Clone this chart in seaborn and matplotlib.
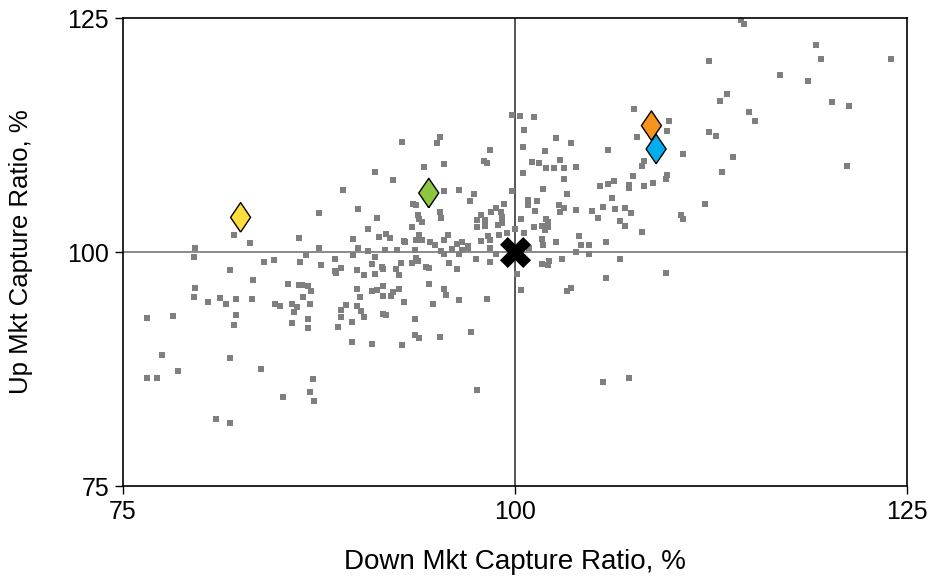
import matplotlib
matplotlib.use("Agg")
import matplotlib.pyplot as plt
import seaborn as sns
import pandas as pd

# Peer universe: downside / upside market capture ratios (%)
down_capture = [
    76.5, 76.5, 77.2, 77.5, 78.2, 78.5, 79.6, 79.5, 79.6, 79.5, 80.4, 81.2, 81.6, 82.2, 82.2,
    82.1, 82.1, 83.1, 81.8, 83.3, 83.2, 84.0, 84.6, 86.2, 86.3, 86.7, 87.5, 87.5, 87.6, 85.5,
    86.2, 86.4, 86.8, 87.0, 86.5, 84.7, 85.0, 85.8, 86.1, 86.9, 85.9, 86.8, 85.8, 86.8, 81.8,
    83.8, 87.1, 86.9, 87.2, 85.2, 80.9, 81.8,
    99.8, 95.2, 95.0, 92.8, 98.4, 98.0, 98.2, 95.5, 94.2, 91.1, 92.2, 89.0, 95.5, 96.4, 97.4,
    97.1, 99.3, 99.8, 93.5, 93.7, 98.8, 90.0,
    91.2, 90.6, 95.2, 95.3, 93.8, 93.9, 94.1, 93.4, 98.5, 99.1, 97.8, 98.1, 97.6, 99.2, 99.2,
    98.9, 98.1, 97.6, 89.7, 91.3, 91.8, 92.0, 92.9, 93.0, 93.9, 93.7, 94.1, 94.6, 94.9, 95.5,
    95.7, 96.3, 96.6, 97.0, 97.0, 97.8, 98.3, 98.4, 98.4, 99.0, 99.5, 90.0, 90.6, 91.7, 92.5,
    93.6, 95.3, 95.5, 96.0, 96.4, 96.6, 89.7, 88.5, 91.1, 90.9, 92.7, 93.4, 93.7, 93.8, 95.8,
    97.5, 98.4, 98.8, 88.9, 88.5, 88.6, 89.9, 90.4, 91.1, 91.5, 91.6, 92.4, 92.6, 94.3, 94.5,
    96.3, 94.5, 89.9, 90.9, 91.2, 91.6, 92.6, 92.2, 92.1, 91.6, 90.1, 95.5, 95.6, 96.4, 98.2,
    92.9, 94.8, 89.9, 89.2, 88.9, 90.2, 91.6, 91.8, 90.4, 88.9, 93.6,
    89.6, 88.7, 93.6, 93.9, 95.2, 97.2, 89.6, 90.9, 92.8, 97.6,
    100.3, 101.2, 100.6, 102.6, 103.6, 100.5, 101.9, 105.9, 107.6, 109.8, 109.7, 107.8, 112.4,
    110.7, 101.1, 101.5, 102.9, 102.0, 102.5, 103.1, 103.9, 100.5, 103.1, 108.2, 108.1, 107.5,
    109.7, 109.6, 106.3, 105.9, 105.4, 107.3, 107.3, 108.2, 108.8, 101.8, 103.3, 106.2, 100.8,
    101.4, 100.8, 102.8, 112.1,
    101.3, 103.1, 102.9, 103.9, 104.9, 105.6, 106.4, 107.0, 107.4, 110.6, 110.7, 100.4, 102.0,
    102.1, 105.3, 106.7, 107.0, 101.2, 101.7, 101.9, 102.1, 100.0, 100.6, 108.1, 104.1, 101.7,
    102.6, 105.8, 101.8, 104.2, 104.7, 100.9, 103.9, 104.7, 103.0, 106.7, 101.7, 102.1, 102.2,
    100.1, 109.6, 105.8, 100.4, 103.6, 103.3, 105.6, 107.3,
    114.4, 114.6, 119.2, 119.5, 124.0, 112.4, 116.9, 118.7, 113.5, 113.1, 120.2, 121.3, 114.9,
    115.3, 112.8, 113.9, 113.2, 121.2,
]
up_capture = [
    93.0, 86.5, 86.5, 89.0, 93.2, 87.3, 100.4, 99.5, 96.2, 95.2, 94.7, 95.1, 94.4, 95.0, 93.3,
    92.2, 101.8, 101.0, 98.1, 97.0, 95.0, 98.9, 99.1, 101.5, 98.9, 99.7, 104.2, 100.4, 98.6, 96.6,
    96.5, 96.5, 96.4, 95.8, 95.2, 94.4, 94.2, 94.4, 94.1, 94.4, 93.6, 92.8, 92.4, 91.9, 88.7,
    87.5, 86.4, 85.0, 84.1, 84.5, 82.2, 81.7,
    114.6, 112.3, 111.6, 111.8, 110.9, 109.7, 109.5, 109.4, 109.1, 108.6, 107.7, 106.6, 106.5,
    106.6, 106.2, 105.4, 105.1, 106.5, 105.1, 105.0, 104.7, 104.6,
    103.6, 102.5, 104.3, 103.6, 104.0, 103.5, 103.2, 102.7, 104.3, 104.3, 104.0, 103.4, 103.4,
    103.7, 103.1, 102.9, 102.8, 102.7, 101.4, 101.6, 101.9, 101.5, 101.2, 101.1, 101.8, 101.3,
    101.3, 101.1, 100.8, 101.3, 101.8, 100.9, 101.1, 100.6, 100.4, 101.2, 101.7, 101.3, 100.4,
    101.8, 102.0, 100.4, 100.1, 100.2, 100.2, 100.2, 100.1, 99.8, 100.3, 99.8, 100.2, 99.7,
    99.3, 99.5, 98.7, 98.8, 98.8, 99.4, 99.0, 98.8, 99.3, 98.9, 99.8, 98.3, 98.0, 97.8, 98.1,
    97.5, 97.6, 98.4, 98.2, 98.2, 97.5, 98.4, 98.3, 98.2, 96.6, 96.0, 95.8, 95.9, 96.4, 96.0,
    95.7, 95.3, 95.3, 95.2, 96.0, 95.4, 94.9, 95.0, 94.7, 94.4, 94.2, 94.3, 93.8, 93.7, 93.4,
    93.3, 93.1, 93.1, 92.8,
    92.5, 92.0, 91.1, 90.8, 90.9, 91.4, 90.4, 90.2, 90.1, 85.3,
    114.5, 114.4, 113.0, 112.2, 111.6, 111.2, 110.8, 110.9, 115.3, 114.0, 112.9, 112.3, 112.8,
    110.5, 109.6, 109.5, 109.8, 109.0, 109.0, 109.0, 109.1, 108.4, 107.8, 109.7, 109.2, 108.1,
    108.2, 107.8, 107.6, 107.3, 107.0, 107.2, 106.8, 107.1, 107.4, 106.7, 106.2, 105.8, 105.6,
    105.5, 105.0, 105.0, 105.1,
    104.4, 104.7, 104.3, 104.5, 104.4, 104.8, 104.6, 104.7, 104.2, 103.9, 103.5, 103.5, 103.5,
    103.2, 103.6, 103.3, 102.8, 102.7, 102.8, 102.4, 102.7, 102.5, 102.0, 102.1, 101.7, 101.4,
    101.1, 101.1, 100.7, 100.7, 100.7, 100.4, 100.0, 99.8, 99.3, 99.2, 98.7, 98.6, 99.0,
    97.6, 97.8, 97.2, 95.9, 96.2, 95.8, 86.1, 86.5,
    124.8, 124.4, 122.1, 120.6, 120.6, 120.4, 118.9, 118.3, 116.9, 116.1, 116.0, 115.6, 115.0,
    114.0, 112.4, 110.1, 108.5, 109.2,
]

# Highlighted funds
fund_names = ["Fund A", "Fund B", "Fund C", "Fund D"]
fund_down = [82.5, 94.5, 108.7, 109.0]
fund_up = [103.7, 106.3, 113.5, 111.0]
fund_colors = ["#FFDD3C", "#8DC63F", "#F7941D", "#00AEEF"]

# Benchmark
bench_down = [100.0]
bench_up = [100.0]

tick_values = [75, 100, 125]

sns.set_style("white")
plt.rcParams["font.family"] = ["Liberation Sans", "DejaVu Sans"]

fig = plt.figure(figsize=(9.51, 5.84), dpi=100)
ax = fig.add_axes([123 / 951, 1 - 486 / 584, 784 / 951, 468 / 584])

# Crosshair at the benchmark level
ax.axhline(100, color="#8a8a8a", lw=1.4, zorder=1)
ax.axvline(100, color="#555555", lw=1.4, zorder=1)

peers = pd.DataFrame({"down": down_capture, "up": up_capture})
sns.scatterplot(data=peers, x="down", y="up", ax=ax, marker="s", s=16,
                color="#7f7f7f", linewidth=0, zorder=2)

funds = pd.DataFrame({"name": fund_names, "down": fund_down, "up": fund_up})
diamond = [(0, -1), (0.68, 0), (0, 1), (-0.68, 0), (0, -1)]
sns.scatterplot(data=funds, x="down", y="up", hue="name", palette=fund_colors,
                marker=diamond, s=450, edgecolor="black", linewidth=1.0,
                legend=False, ax=ax, zorder=4)

sns.scatterplot(x=bench_down, y=bench_up, marker="X", s=500, color="black",
                linewidth=0, ax=ax, zorder=5)

ax.set_xlim(75, 125)
ax.set_ylim(75, 125)
ax.set_xticks(tick_values)
ax.set_yticks(tick_values)
ax.set_xticklabels([str(v) for v in tick_values])
ax.set_yticklabels([str(v) for v in tick_values])
ax.tick_params(axis="both", which="major", direction="out", length=6, width=1,
               color="black", labelsize=18, labelcolor="black", pad=4,
               bottom=True, left=True)

for side in ["left", "right", "top", "bottom"]:
    ax.spines[side].set_visible(True)
    ax.spines[side].set_color("black")
    ax.spines[side].set_linewidth(1.2)

ax.set_xlabel("Down Mkt Capture Ratio, %", fontsize=20, color="black")
ax.set_ylabel("Up Mkt Capture Ratio, %", fontsize=18.5, color="black")
ax.xaxis.set_label_coords(0.5, -0.135)
ax.yaxis.set_label_coords(-0.115, 0.5)

fig.savefig("out.png", dpi=100)
